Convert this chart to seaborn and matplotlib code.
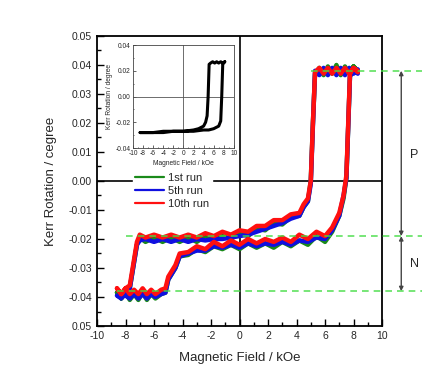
import matplotlib.pyplot as plt
import numpy as np
import pandas as pd
import seaborn as sns
from matplotlib.lines import Line2D

sns.set_style("ticks")
plt.rcParams['font.family'] = ['Liberation Sans', 'DejaVu Sans']
plt.rcParams['axes.unicode_minus'] = False

# campo magnetico (kOe) recorriendo el lazo: bajando desde +8 y luego subiendo
field = [8.3, 8.0, 7.7, 7.4, 7.1, 6.8, 6.5, 6.2, 5.9, 5.6, 5.3, 5.15, 5.0, 4.8, 4.5, 4.2,
         3.6, 3.0, 2.4, 1.8, 1.2, 0.6, 0.0, -0.6, -1.2, -1.8, -2.4, -3.0, -3.6, -4.2, -4.8,
         -5.4, -6.0, -6.6, -7.0, -7.2, -7.5, -7.7, -8.0, -8.3, -8.6,
         -8.3, -8.0, -7.7, -7.4, -7.1, -6.8, -6.5, -6.2, -5.9, -5.5, -5.2, -5.0, -4.5, -4.2,
         -3.6, -3.0, -2.4, -1.8, -1.2, -0.6, 0.0, 0.6, 1.2, 1.8, 2.4, 3.0, 3.6, 4.2, 4.8,
         5.4, 6.0, 6.5, 7.0, 7.3, 7.5, 7.75, 8.0, 8.3]

kerr_run1 = [0.0375, 0.0395, 0.0370, 0.0395, 0.0365, 0.0400, 0.0370, 0.0395, 0.0365, 0.0390, 0.0370, 0.020, 0.000, -0.007, -0.009, -0.012,
             -0.0125, -0.0150, -0.0145, -0.0170, -0.0165, -0.0190, -0.0180, -0.0200, -0.0190, -0.0205, -0.0190, -0.0210, -0.0195, -0.0210, -0.0195,
             -0.0210, -0.0195, -0.0210, -0.0195, -0.022, -0.031, -0.037, -0.0385, -0.0405, -0.0385,
             -0.0405, -0.0385, -0.0410, -0.0390, -0.0410, -0.0385, -0.0410, -0.0390, -0.0405, -0.0390, -0.0385, -0.034, -0.030, -0.026,
             -0.0255, -0.0235, -0.0245, -0.0225, -0.0235, -0.0220, -0.0235, -0.0215, -0.0230, -0.0215, -0.0230, -0.0210, -0.0225, -0.0205, -0.0220,
             -0.0190, -0.0210, -0.0175, -0.012, -0.006, 0.001, 0.036, 0.0395, 0.0380]

kerr_run5 = [0.0385, 0.0370, 0.0390, 0.0365, 0.0390, 0.0365, 0.0390, 0.0365, 0.0390, 0.0365, 0.0380, 0.019, -0.001, -0.007, -0.009, -0.012,
             -0.0130, -0.0145, -0.0155, -0.0165, -0.0175, -0.0185, -0.0190, -0.0195, -0.0200, -0.0200, -0.0205, -0.0200, -0.0210, -0.0200, -0.0210,
             -0.0200, -0.0210, -0.0200, -0.0205, -0.022, -0.031, -0.037, -0.0380, -0.0405, -0.0395,
             -0.0400, -0.0395, -0.0405, -0.0390, -0.0405, -0.0390, -0.0405, -0.0390, -0.0400, -0.0390, -0.0385, -0.034, -0.030, -0.026,
             -0.0250, -0.0240, -0.0240, -0.0225, -0.0230, -0.0220, -0.0230, -0.0215, -0.0225, -0.0215, -0.0220, -0.0210, -0.0220, -0.0205, -0.0210,
             -0.0195, -0.0200, -0.0170, -0.012, -0.005, 0.001, 0.036, 0.0385, 0.0370]

kerr_run10 = [0.0380, 0.0390, 0.0370, 0.0390, 0.0370, 0.0390, 0.0370, 0.0390, 0.0370, 0.0390, 0.0375, 0.020, 0.000, -0.006, -0.008, -0.011,
              -0.0115, -0.0135, -0.0135, -0.0155, -0.0155, -0.0175, -0.0170, -0.0185, -0.0175, -0.0190, -0.0180, -0.0195, -0.0185, -0.0195, -0.0185,
              -0.0195, -0.0185, -0.0195, -0.0185, -0.021, -0.030, -0.036, -0.0370, -0.0390, -0.0370,
              -0.0390, -0.0370, -0.0390, -0.0375, -0.0390, -0.0370, -0.0390, -0.0375, -0.0390, -0.0375, -0.0370, -0.033, -0.029, -0.025,
              -0.0245, -0.0225, -0.0235, -0.0210, -0.0225, -0.0205, -0.0220, -0.0200, -0.0215, -0.0200, -0.0210, -0.0195, -0.0210, -0.0185, -0.0200,
              -0.0175, -0.0190, -0.0160, -0.011, -0.005, 0.002, 0.037, 0.0390, 0.0375]

runs = ['1st run', '5th run', '10th run']
run_colors = ['#1a8a1a', '#1010e0', '#ff1010']

# niveles de referencia (P y N)
ref_levels = [0.038, -0.019, -0.038]
ref_start = [5.0, -8.0, -8.6]

# inserto: lazo menor
inset_field = [8.2, 7.8, 7.4, 7.0, 6.6, 6.2, 5.8, 5.4, 5.1, 4.9, 4.7, 4.4, 4.0, 3.0, 2.0, 0.0,
               -2.0, -4.0, -6.0, -8.6, -6.0, -4.0, -2.0, 0.0, 2.0, 4.0, 5.0, 6.0, 7.0, 7.4, 7.6, 7.8, 8.2]
inset_kerr = [0.027, 0.026, 0.027, 0.026, 0.027, 0.026, 0.027, 0.026, 0.025, 0.000, -0.015, -0.020, -0.023, -0.025, -0.026, -0.027,
              -0.027, -0.027, -0.028, -0.028, -0.028, -0.028, -0.027, -0.027, -0.027, -0.026, -0.026, -0.025, -0.023, -0.019, 0.000, 0.025, 0.027]

ytick_vals = [-0.05, -0.04, -0.03, -0.02, -0.01, 0.00, 0.01, 0.02, 0.03, 0.04, 0.05]
ytick_labels = ['0.05', '-0.04', '-0.03', '-0.02', '-0.01', '0.00', '0.01', '0.02', '0.03', '0.04', '0.05']

fig = plt.figure(figsize=(4.42, 3.8), dpi=100)
ax = fig.add_axes([0.2195, 0.1421, 0.6448, 0.7632])

ax.axhline(0, color='black', lw=1.2, zorder=1)
ax.axvline(0, color='black', lw=1.2, zorder=1)

for kerr, name, col in zip([kerr_run1, kerr_run5, kerr_run10], runs, run_colors):
    sns.lineplot(x=field, y=kerr, sort=False, estimator=None, color=col, lw=3.2, ax=ax, zorder=3)

for lev, x0 in zip(ref_levels, ref_start):
    ax.plot([x0, 12.8], [lev, lev], color='#44dd44', lw=1.2, ls=(0, (4, 3)), alpha=0.85, clip_on=False, zorder=4)

# flechas P y N
arrow = dict(arrowstyle='<|-|>', color='#444444', lw=1.0, mutation_scale=6, shrinkA=0, shrinkB=0)
ax.annotate('', xy=(11.35, ref_levels[0]), xytext=(11.35, ref_levels[1]), arrowprops=arrow, annotation_clip=False)
ax.annotate('', xy=(11.35, ref_levels[1]), xytext=(11.35, ref_levels[2]), arrowprops=arrow, annotation_clip=False)
ax.text(11.95, 0.009, 'P', fontsize=9, va='center', ha='left', clip_on=False)
ax.text(11.95, -0.0285, 'N', fontsize=9, va='center', ha='left', clip_on=False)

ax.set_xlim(-10, 10)
ax.set_ylim(-0.05, 0.05)
ax.set_xticks(range(-10, 11, 2))
ax.set_xticks(range(-9, 10, 2), minor=True)
ax.set_yticks(ytick_vals)
ax.set_yticklabels(ytick_labels)
ax.set_yticks([v + 0.005 for v in ytick_vals[:-1]], minor=True)
ax.tick_params(which='both', direction='in', top=False, right=False, labelsize=7.5, width=1.0, color='black')
ax.tick_params(which='major', length=5)
ax.tick_params(which='minor', length=3)
for s in ax.spines.values():
    s.set_linewidth(1.3)
    s.set_color('black')
ax.set_xlabel('Magnetic Field / kOe', fontsize=9.5, labelpad=8)
ax.set_ylabel('Kerr Rotation / cegree', fontsize=9.5, labelpad=8)

handles = [Line2D([], [], color=c, lw=1.6) for c in run_colors]
leg = ax.legend(handles, runs, loc='upper left', bbox_to_anchor=(0.125, 0.535), fontsize=8,
                frameon=True, fancybox=False, handlelength=2.6, handletextpad=0.4,
                labelspacing=0.25, borderpad=0.2, borderaxespad=0)
leg.get_frame().set_edgecolor('white')
leg.get_frame().set_facecolor('white')
leg.get_frame().set_alpha(1)
leg.set_zorder(5)

# inserto
axi = fig.add_axes([0.301, 0.6105, 0.228, 0.271])
axi.set_facecolor('white')
axi.axhline(0, color='#555555', lw=0.6)
axi.axvline(0, color='#555555', lw=0.6)
sns.lineplot(x=inset_field, y=inset_kerr, sort=False, estimator=None, color='black', lw=2.2, ax=axi)
axi.set_xlim(-10, 10)
axi.set_ylim(-0.04, 0.04)
axi.set_xticks(range(-10, 11, 2))
axi.set_xticks(range(-9, 10, 2), minor=True)
axi.set_yticks([-0.04, -0.02, 0.0, 0.02, 0.04])
axi.set_yticklabels(['-0.04', '-0.02', '0.00', '0.02', '0.04'])
axi.set_yticks([-0.03, -0.01, 0.01, 0.03], minor=True)
axi.tick_params(which='both', direction='in', labelsize=4.8, pad=1.5, width=0.5)
axi.tick_params(which='major', length=2)
axi.tick_params(which='minor', length=1)
for s in axi.spines.values():
    s.set_linewidth(0.6)
    s.set_color('#444444')
axi.set_xlabel('Magnetic Field / kOe', fontsize=4.8, labelpad=2)
axi.set_ylabel('Kerr Rotation / degree', fontsize=4.8, labelpad=2)

fig.savefig('out.png', dpi=100)
